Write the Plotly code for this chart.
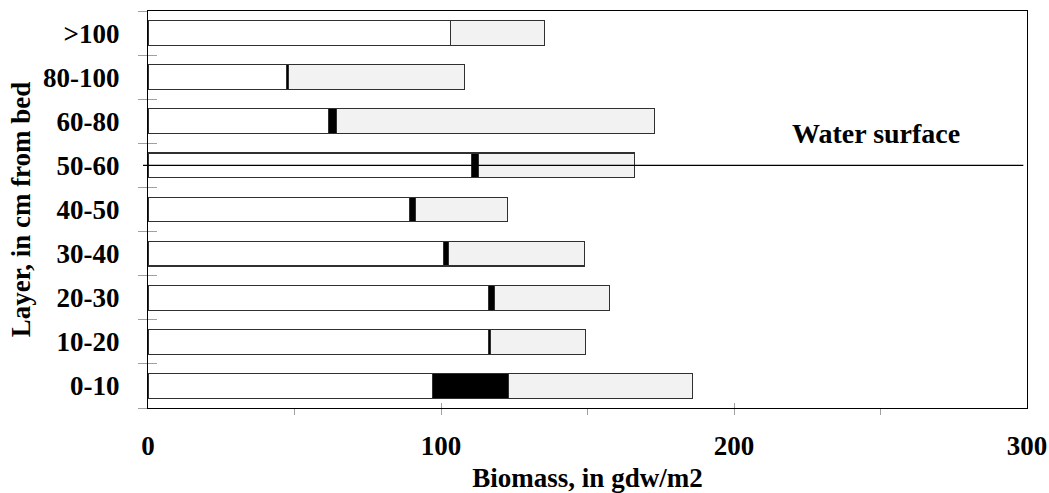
import plotly.graph_objects as go

# ---- data ----
layers = ["0-10", "10-20", "20-30", "30-40", "40-50", "50-60", "60-80", "80-100", ">100"]
white_part = [97.2, 116.2, 116.1, 101.0, 89.4, 110.4, 61.7, 47.4, 103.3]
black_part = [25.9, 0.6, 2.2, 1.6, 2.0, 2.3, 2.6, 0.6, 0.0]
grey_part = [62.7, 32.6, 39.2, 46.3, 31.2, 53.3, 108.6, 60.1, 32.0]

x_ticks = [0, 50, 100, 150, 200, 250, 300]
x_tick_text = ["0", "", "100", "", "200", "", "300"]
water_layer = "50-60"
water_label = "Water surface"

FONT = "Liberation Serif"
ypos = list(range(len(layers)))
bounds = [i - 0.5 for i in range(len(layers) + 1)]
outline = dict(color="#303030", width=1.1)

fig = go.Figure()
fig.add_trace(go.Bar(y=ypos, x=white_part, orientation="h", name="part 1",
                     marker=dict(color="white", line=outline)))
fig.add_trace(go.Bar(y=ypos, x=black_part, orientation="h", name="part 2",
                     marker=dict(color="black", line=outline)))
fig.add_trace(go.Bar(y=ypos, x=grey_part, orientation="h", name="part 3",
                     marker=dict(color="#f2f2f2", line=outline)))
# dummy trace so the overlay axis (inner tick halves) is drawn
fig.add_trace(go.Scatter(x=[None], y=[None], yaxis="y2", showlegend=False, hoverinfo="skip"))

wy = layers.index(water_layer)
fig.add_shape(type="line", xref="paper", yref="y", x0=-5 / 879, x1=875.3 / 879,
              y0=wy, y1=wy, line=dict(color="black", width=1.1))
fig.add_annotation(x=248.5, y=wy + 0.716, xref="x", yref="y", text=water_label,
                   showarrow=False, font=dict(family=FONT, size=28, color="black", weight="bold"))

tickfont = dict(family=FONT, size=27, color="black", weight="bold")
fig.update_layout(
    width=1049, height=493,
    margin=dict(l=148, r=22, t=11, b=85),
    paper_bgcolor="white", plot_bgcolor="white",
    barmode="stack", bargap=0.44, showlegend=False,
    xaxis=dict(range=[0, 300], tickmode="array", tickvals=x_ticks, ticktext=x_tick_text,
               ticks="inside", ticklen=5, tickwidth=1, tickcolor="#a0a0a0",
               minor=dict(tickmode="array", tickvals=x_ticks, ticks="outside", ticklen=6,
                          tickwidth=1, tickcolor="#a0a0a0"),
               showline=True, linecolor="black", linewidth=1.2, mirror=True,
               showgrid=False, zeroline=False, tickfont=tickfont, ticklabelstandoff=13,
               automargin=False,
               title=dict(text="Biomass, in gdw/m2", font=tickfont, standoff=13)),
    yaxis=dict(range=[-0.5, len(layers) - 0.5], tickmode="array", tickvals=ypos, ticktext=layers,
               ticks="", minor=dict(tickmode="array", tickvals=bounds, ticks="outside",
                                    ticklen=9, tickwidth=1.3, tickcolor="#a0a0a0"),
               showline=True, linecolor="black", linewidth=1.2, mirror=True,
               showgrid=False, zeroline=False, tickfont=tickfont, ticklabelstandoff=22,
               automargin=False,
               title=dict(text="Layer, in cm from bed", font=tickfont, standoff=4)),
    yaxis2=dict(overlaying="y", side="left", range=[-0.5, len(layers) - 0.5],
                tickmode="array", tickvals=bounds, ticks="inside", ticklen=9, tickwidth=1.3,
                tickcolor="#a0a0a0", showticklabels=False, showline=False, showgrid=False,
                zeroline=False, automargin=False),
)

# remove the default 8px page margin so the 1049x493 figure fills the window exactly
fig.write_html("out.html", config={"displayModeBar": False},
               post_script="document.body.style.margin='0';document.body.style.overflow='hidden';")
